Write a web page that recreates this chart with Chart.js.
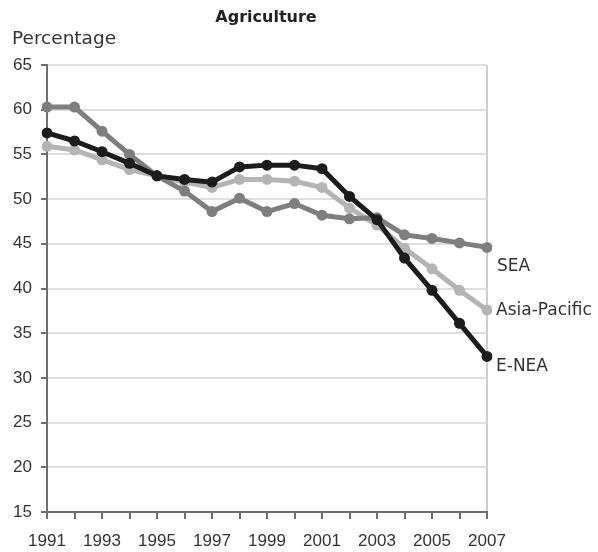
<!DOCTYPE html>
<html>
<head>
<meta charset="utf-8">
<script src="https://cdn.jsdelivr.net/npm/chart.js@4"></script>
<style>
  html, body { margin: 0; padding: 0; background: #fff; }
  #wrap { width: 598px; height: 552px; }
</style>
</head>
<body>
<div id="wrap"><canvas id="chart" width="598" height="552"></canvas></div>
<script>
const years = ["1991","1992","1993","1994","1995","1996","1997","1998","1999","2000","2001","2002","2003","2004","2005","2006","2007"];
const eNea = [57.4, 56.5, 55.3, 54.0, 52.6, 52.2, 51.9, 53.6, 53.8, 53.8, 53.4, 50.3, 47.7, 43.4, 39.8, 36.1, 32.4];
const asiaPacific = [55.9, 55.5, 54.4, 53.3, 52.6, 51.9, 51.3, 52.2, 52.2, 52.0, 51.3, 49.0, 47.1, 44.5, 42.2, 39.8, 37.6];
const sea = [60.3, 60.3, 57.6, 55.0, 52.6, 50.9, 48.6, 50.1, 48.6, 49.5, 48.2, 47.8, 47.9, 46.0, 45.6, 45.1, 44.6];
const yTicks = [15, 20, 25, 30, 35, 40, 45, 50, 55, 60, 65];

const FONT = "'DejaVu Sans', sans-serif";
const TICK_FONT = "'Liberation Sans', Arial, sans-serif";

// title, y-axis caption and line-end labels
const annotations = {
  id: "annotations",
  afterDraw(chart) {
    const ctx = chart.ctx;
    const x = chart.scales.x, y = chart.scales.y;
    ctx.save();
    ctx.fillStyle = "#222";
    ctx.textBaseline = "middle";
    ctx.textAlign = "center";
    ctx.font = "bold 16px " + FONT;
    ctx.fillText("Agriculture", 266, 18);
    ctx.textAlign = "left";
    ctx.font = "18.5px " + FONT;
    ctx.fillStyle = "#333";
    ctx.fillText("Percentage", 12, 39);

    const last = years.length - 1;
    const xe = x.getPixelForValue(last) + 10;
    ctx.font = "17px " + FONT;
    ctx.fillText("SEA", xe, y.getPixelForValue(sea[last]) + 19);
    ctx.fillText("Asia-Pacific", xe - 1, y.getPixelForValue(asiaPacific[last]) + 1);
    ctx.fillText("E-NEA", xe - 1, y.getPixelForValue(eNea[last]) + 10);
    ctx.restore();
  }
};

new Chart(document.getElementById("chart").getContext("2d"), {
  type: "line",
  data: {
    labels: years,
    datasets: [
      { label: "E-NEA", data: eNea, borderColor: "#1c1c1c", backgroundColor: "#1c1c1c" },
      { label: "SEA", data: sea, borderColor: "#7e7e7e", backgroundColor: "#7e7e7e" },
      { label: "Asia-Pacific", data: asiaPacific, borderColor: "#b4b4b4", backgroundColor: "#b4b4b4" }
    ]
  },
  options: {
    responsive: false,
    animation: false,
    layout: { padding: { top: 65, right: 111, left: 0, bottom: 0 } },
    elements: {
      line: { borderWidth: 5, tension: 0 },
      point: { radius: 5.5, borderWidth: 0 }
    },
    plugins: {
      legend: { display: false },
      title: { display: false },
      tooltip: { enabled: false }
    },
    scales: {
      x: {
        type: "category",
        offset: false,
        afterFit: s => { s.height = 40; },
        border: { color: "#6e6e6e", width: 2 },
        grid: {
          drawOnChartArea: true,
          color: c => (c.index === years.length - 1 ? "#cfcfcf" : "rgba(0,0,0,0)"),
          tickColor: "#6e6e6e",
          tickLength: 7,
          lineWidth: 2
        },
        ticks: {
          autoSkip: false,
          maxRotation: 0,
          padding: 12,
          color: "#333",
          font: { family: TICK_FONT, size: 17 },
          callback: function (v, i) { return i % 2 === 0 ? years[i] : ""; }
        }
      },
      y: {
        min: 15,
        max: 65,
        afterFit: s => { s.width = 47; },
        afterBuildTicks: s => { s.ticks = yTicks.map(v => ({ value: v })); },
        border: { color: "#6e6e6e", width: 2 },
        grid: { color: "#dedede", lineWidth: 2, tickColor: "#6e6e6e", tickLength: 6 },
        ticks: {
          padding: 9,
          color: "#333",
          font: { family: TICK_FONT, size: 17 }
        }
      }
    }
  },
  plugins: [annotations]
});
</script>
</body>
</html>
